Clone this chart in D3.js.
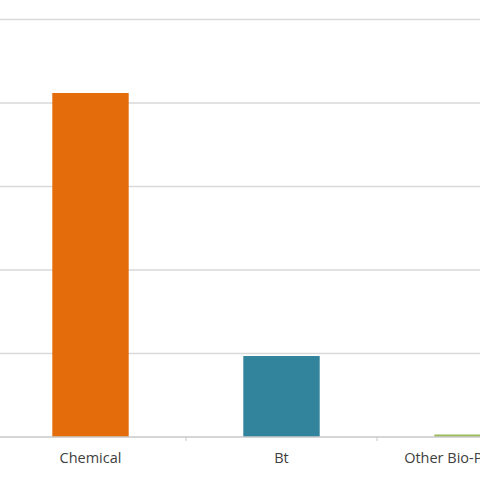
<!DOCTYPE html>
<html lang="en">
<head>
  <meta charset="utf-8">
  <title>Pesticide categories</title>
  <script src="https://d3js.org/d3.v7.min.js"></script>
  <style>
    html, body {
      margin: 0;
      padding: 0;
      background: #fff;
      overflow: hidden;
    }
    svg {
      display: block;
    }
    .label {
      font-family: "Open Sans", sans-serif;
      font-size: 14.5px;
      fill: #404040;
    }
  </style>
</head>
<body>
  <svg width="480" height="480"></svg>

  <script>
  // data (axis labels are cropped away in the source)
  const categories = ["Chemical", "Bt", "Other Bio-Pesticides"];
  const values = [4.12, 0.97, 0.03];
  const barColors = ["#E46C0A", "#31849B", "#9BBB59"];
  const yTicks = [0, 1, 2, 3, 4, 5];

  const width = 480;
  const svg = d3.select("svg");

  // the plot is cut on both sides, so the range runs past the window
  const x = d3.scaleBand()
    .domain(categories)
    .range([-5, 568])
    .paddingInner(0.6)
    .paddingOuter(0.3);

  const y = d3.scaleLinear()
    .domain([0, 5])
    .range([437, 19.5]);

  // gridlines
  svg.selectAll(".grid")
    .data(yTicks.filter(d => d > 0))
    .enter().append("line")
    .attr("class", "grid")
    .attr("x1", 0)
    .attr("x2", width)
    .attr("y1", d => y(d))
    .attr("y2", d => y(d))
    .attr("stroke", "#d9d9d9")
    .attr("stroke-width", 1.5);

  // bars
  svg.selectAll(".bar")
    .data(categories)
    .enter().append("rect")
    .attr("class", "bar")
    .attr("x", d => x(d))
    .attr("width", x.bandwidth())
    .attr("y", (d, i) => y(values[i]))
    .attr("height", (d, i) => y(0) - y(values[i]))
    .attr("fill", (d, i) => barColors[i]);

  // baseline
  svg.append("line")
    .attr("x1", 0)
    .attr("x2", width)
    .attr("y1", y(0))
    .attr("y2", y(0))
    .attr("stroke", "#c8c8c8")
    .attr("stroke-width", 1.5);

  // tick marks between categories (Excel style)
  const step = x.step();
  svg.selectAll(".tick")
    .data(categories)
    .enter().append("line")
    .attr("class", "tick")
    .attr("x1", d => x(d) + x.bandwidth() / 2 + step / 2)
    .attr("x2", d => x(d) + x.bandwidth() / 2 + step / 2)
    .attr("y1", y(0))
    .attr("y2", y(0) + 4)
    .attr("stroke", "#c8c8c8")
    .attr("stroke-width", 1);

  // category labels
  svg.selectAll(".label")
    .data(categories)
    .enter().append("text")
    .attr("class", "label")
    .attr("x", d => x(d) + x.bandwidth() / 2)
    .attr("y", 463)
    .attr("text-anchor", "middle")
    .text(d => d);
  </script>
</body>
</html>
